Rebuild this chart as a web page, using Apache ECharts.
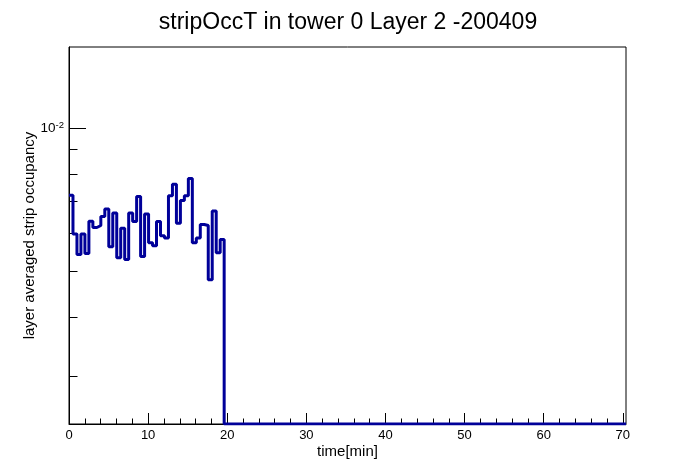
<!DOCTYPE html>
<html>
<head>
<meta charset="utf-8">
<script src="https://cdn.jsdelivr.net/npm/echarts@6/dist/echarts.min.js"></script>
<style>
html, body { margin: 0; padding: 0; background: #fff; }
#main { width: 696px; height: 472px; }
</style>
</head>
<body>
<div id="main"></div>
<script>
// histogram: 140 bins over 0..70.4 min, only the first 39 bins are filled
var xMax = 70.4;
var nBins = 140;
var occupancy = [
	0.00721, 0.00598, 0.00541, 0.00598, 0.00544, 0.00636, 0.00617, 0.00623, 0.00651, 0.00675,
	0.00562, 0.00662, 0.00533, 0.00615, 0.00528, 0.00662, 0.00635, 0.00717, 0.00536, 0.00659,
	0.00573, 0.00565, 0.00635, 0.00593, 0.00586, 0.00720, 0.00761, 0.00630, 0.00703, 0.00720,
	0.00782, 0.00573, 0.00586, 0.00626, 0.00623, 0.00479, 0.00668, 0.00546, 0.00582
];
var yMin = 0.00238, yMax = 0.0148;
var xMajor = [0, 10, 20, 30, 40, 50, 60, 70];
var xMinor = [2, 4, 6, 8, 12, 14, 16, 18, 22, 24, 26, 28, 32, 34, 36, 38, 42, 44, 46, 48, 52, 54, 56, 58, 62, 64, 66, 68];
var yMajor = [0.01];
var yMinor = [0.003, 0.004, 0.005, 0.006, 0.007, 0.008, 0.009];

var binW = xMax / nBins;
var points = [];
for (var i = 0; i < nBins; i++) {
	var v = i < occupancy.length ? occupancy[i] : 0;
	// empty bins sit on the frame bottom, like ROOT draws them
	points.push([i * binW, v > 0 ? v : yMin]);
}
points.push([xMax, points[nBins - 1][1]]);

var gridBox = { left: 69, right: 70, top: 47, bottom: 48 };
var font = "Liberation Sans";

var chart = echarts.init(document.getElementById('main'));
chart.setOption({
	animation: false,
	textStyle: { fontFamily: font, color: '#000' },
	title: {
		text: 'stripOccT in tower 0 Layer 2 -200409',
		left: 'center',
		top: 6,
		textStyle: { fontFamily: font, fontSize: 23, fontWeight: 'normal', color: '#000' }
	},
	grid: [
		Object.assign({ show: true, borderColor: '#000', borderWidth: 1, backgroundColor: '#fff' }, gridBox),
		Object.assign({ show: false }, gridBox)
	],
	xAxis: [
		{
			type: 'value', gridIndex: 0, min: 0, max: xMax,
			name: 'time[min]', nameLocation: 'middle', nameGap: 20, nameMoveOverlap: false,
			nameTextStyle: { fontSize: 15, color: '#000', fontFamily: font },
			axisLine: { lineStyle: { color: '#000', width: 1 } },
			axisTick: { inside: true, length: 11, customValues: xMajor, lineStyle: { color: '#000' } },
			axisLabel: { customValues: xMajor, fontSize: 13, color: '#000', margin: 5 },
			splitLine: { show: false }
		},
		{
			type: 'value', gridIndex: 1, min: 0, max: xMax,
			axisLine: { show: false },
			axisTick: { inside: true, length: 5.5, customValues: xMinor, lineStyle: { color: '#000' } },
			axisLabel: { show: false, customValues: xMinor },
			splitLine: { show: false }
		}
	],
	yAxis: [
		{
			type: 'log', logBase: 10, gridIndex: 0, min: yMin, max: yMax,
			name: 'layer averaged strip occupancy', nameLocation: 'middle', nameGap: 32, nameMoveOverlap: false,
			nameTextStyle: { fontSize: 15, color: '#000', fontFamily: font },
			axisLine: { show: true, lineStyle: { color: '#000', width: 1 } },
			axisTick: { inside: true, length: 17, customValues: yMajor, lineStyle: { color: '#000' } },
			axisLabel: {
				customValues: yMajor, margin: 5,
				fontSize: 13.5, fontFamily: font, color: '#000',
				formatter: function (v) {
					return '10{s|' + Math.round(Math.log10(v)) + '}';
				},
				rich: {
					s: { fontSize: 9.5, fontFamily: font, color: '#000', verticalAlign: 'top', padding: [0, 0, 5, 0] }
				}
			},
			splitLine: { show: false }
		},
		{
			type: 'log', logBase: 10, gridIndex: 1, min: yMin, max: yMax,
			axisLine: { show: false },
			axisTick: { inside: true, length: 8.5, customValues: yMinor, lineStyle: { color: '#000' } },
			axisLabel: { show: false, customValues: yMinor },
			splitLine: { show: false }
		}
	],
	series: [{
		type: 'line',
		xAxisIndex: 0,
		yAxisIndex: 0,
		step: 'end',
		symbol: 'none',
		data: points,
		lineStyle: { color: '#000099', width: 3 },
		z: 5
	}]
});
</script>
</body>
</html>
